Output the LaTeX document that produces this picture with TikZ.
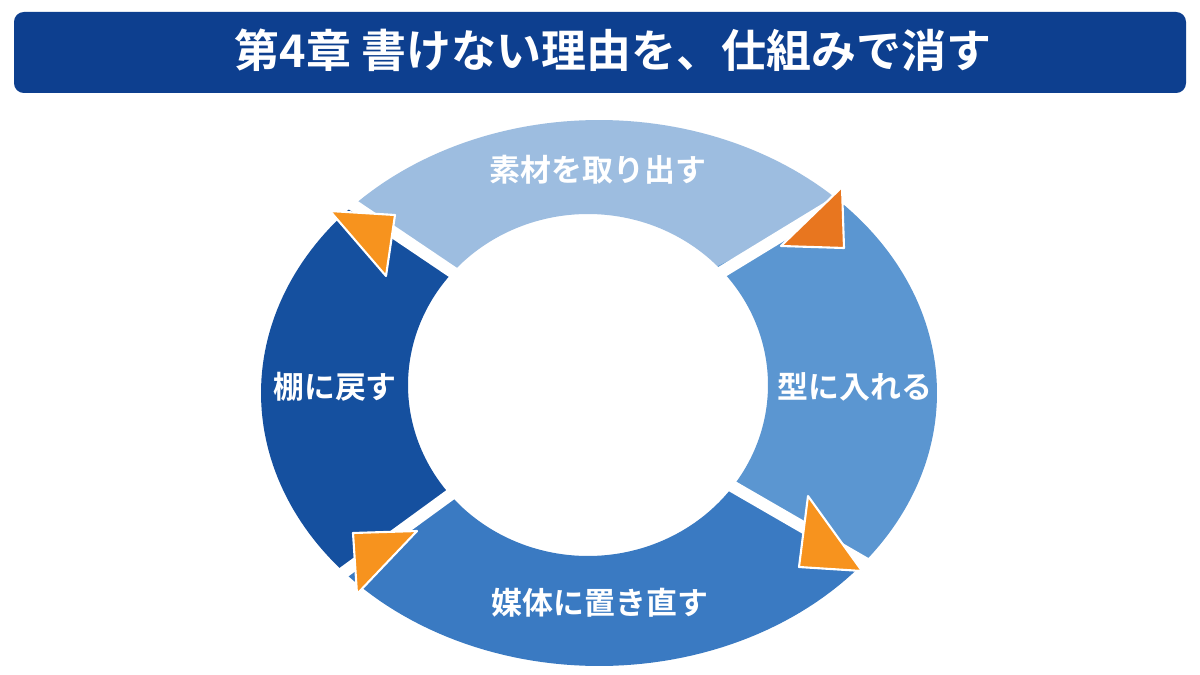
\documentclass[tikz,border=0pt]{standalone}
\usepackage{fontspec}
\newfontfamily\jp{Noto Sans CJK JP}[BoldFont={Noto Sans CJK JP Bold}]
\definecolor{tbar}{HTML}{0D3F8F}
\definecolor{segA}{HTML}{9DBDE0}
\definecolor{segB}{HTML}{5B96D1}
\definecolor{segC}{HTML}{3A7AC2}
\definecolor{segD}{HTML}{15509F}
\definecolor{orA}{HTML}{E8761F}
\definecolor{orB}{HTML}{F7931E}
\begin{document}
\begin{tikzpicture}[x=0.05cm,y=-0.05cm,
  lab/.style={text=white,font=\jp\bfseries\fontsize{44}{50}\selectfont},
  gap/.style={draw=white,line width=0.6cm},
  tri/.style={draw=white,line width=3pt,line join=round}]
\useasboundingbox (0,0) rectangle (1200,675);
\fill[white] (0,0) rectangle (1200,675);
\node[fill=tbar,rounded corners=14pt,minimum width=1172*0.05cm,minimum height=81*0.05cm] (bar) at (600,52.5) {};
\node[text=white,font=\jp\bfseries\fontsize{64}{72}\selectfont] (title) at (613,50) {第4章 書けない理由を、仕組みで消す};
\newcommand\myseg[3]{\fill[#3] plot[domain=#1:#2,samples=60] ({599+338*cos(\x)},{393-273*sin(\x)})
   -- plot[domain=#2:#1,samples=60] ({588+180*cos(\x)},{385-171*sin(\x)}) -- cycle;}
\myseg{44}{137}{segA}
\myseg{-38}{44}{segB}
\myseg{-139}{-38}{segC}
\myseg{137}{221}{segD}
\foreach \a in {44,137,-38,-139}{
  \draw[gap] ({588+150*cos(\a)},{385-140*sin(\a)}) -- ({599+370*cos(\a)},{393-300*sin(\a)});}
\node[lab] (s1) at (598,170) {素材を取り出す};
\node[lab] (s2) at (855,387) {型に入れる};
\node[lab] (s3) at (600,603) {媒体に置き直す};
\node[lab] (s4) at (335,387) {棚に戻す};
\filldraw[tri,fill=orA] (842,187) -- (781,246) -- (844,248) -- cycle;
\filldraw[tri,fill=orB] (808,496) -- (862,571) -- (799,567) -- cycle;
\filldraw[tri,fill=orB] (353,533) -- (417,531) -- (357,594) -- cycle;
\filldraw[tri,fill=orB] (330,211) -- (395,215) -- (386,276) -- cycle;
\end{tikzpicture}
\end{document}
